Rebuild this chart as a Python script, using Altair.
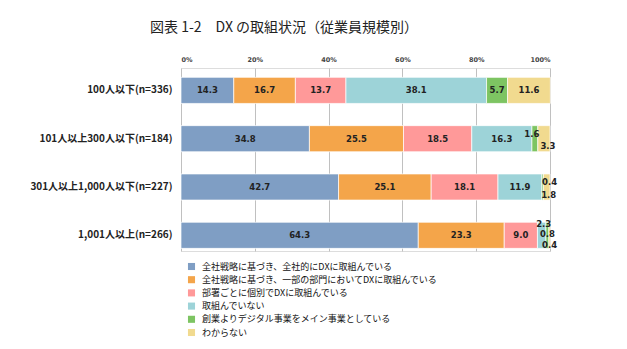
import altair as alt
import pandas as pd

groups = ["100人以下(n=336)", "101人以上300人以下(n=184)",
          "301人以上1,000人以下(n=227)", "1,001人以上(n=266)"]
categories = [
    "全社戦略に基づき、全社的にDXに取組んでいる",
    "全社戦略に基づき、一部の部門においてDXに取組んでいる",
    "部署ごとに個別でDXに取組んでいる",
    "取組んでいない",
    "創業よりデジタル事業をメイン事業としている",
    "わからない",
]
s1 = [14.3, 34.8, 42.7, 64.3]
s2 = [16.7, 25.5, 25.1, 23.3]
s3 = [13.7, 18.5, 18.1, 9.0]
s4 = [38.1, 16.3, 11.9, 2.3]
s5 = [5.7, 1.6, 0.4, 0.8]
s6 = [11.6, 3.3, 1.8, 0.4]
series = [s1, s2, s3, s4, s5, s6]
colors = ["#7F9EC4", "#F4A54A", "#FF9999", "#9DD3D8", "#7DC462", "#F1DA8F"]

# label nudges (pixels) for tiny segments: (group index, category index) -> (dx, dy)
nudges = {
    (1, 4): (-3, -5), (1, 5): (4, 7),
    (2, 4): (7, -5), (2, 5): (2, 8),
    (3, 3): (2, -11), (3, 4): (0, -1), (3, 5): (0, 10),
}

rows = []
for ci, (cat, vals) in enumerate(zip(categories, series)):
    for gi, g in enumerate(groups):
        rows.append({"group": g, "cat": cat, "ci": ci, "gi": gi, "v": vals[gi],
                     "key": f"{gi}-{ci}"})
df = pd.DataFrame(rows)

FONT = "Noto Sans CJK JP"

base = alt.Chart(df).transform_stack(
    stack="v", groupby=["group"], sort=[alt.SortField("ci", "ascending")], as_=["v0", "v1"]
).transform_calculate(mid="(datum.v0 + datum.v1) / 2")

yenc = alt.Y("group:N", sort=groups, title=None,
             scale=alt.Scale(paddingInner=0.46, paddingOuter=0.124, align=0.78),
             axis=alt.Axis(domain=False, ticks=False, labelFont=FONT, labelFontWeight="bold",
                           labelFontSize=10, labelColor="#222222", labelPadding=9))

bars = base.mark_bar(stroke="white", strokeWidth=0.7).encode(
    x=alt.X("v0:Q", scale=alt.Scale(domain=[0, 100], nice=False),
            axis=alt.Axis(orient="top", values=[0, 20, 40, 60, 80, 100],
                          labelExpr="datum.value + '%'", title=None, domain=False,
                          ticks=False, grid=True, gridColor="#C0C0C0", gridWidth=1,
                          labelFont="DejaVu Sans", labelFontWeight="bold",
                          labelFontSize=6.5, labelColor="#444444", labelPadding=6)),
    x2="v1:Q",
    y=yenc,
    color=alt.Color("cat:N", sort=categories,
                    scale=alt.Scale(domain=categories, range=colors),
                    legend=alt.Legend(title=None, orient="none", legendX=6, legendY=194,
                                      symbolType="square", symbolSize=50,
                                      symbolStrokeWidth=0, labelFont=FONT,
                                      labelFontSize=9, labelColor="#111111",
                                      labelOffset=6, rowPadding=3.2, labelLimit=400)),
)

keys = [f"{g}-{c}" for (g, c) in nudges]
labels_main = base.transform_filter(
    "indexof(" + str(keys).replace("'", '"') + ", datum.key) < 0"
).mark_text(font="DejaVu Sans", fontWeight="bold", fontSize=8.5, color="#222222").encode(
    x="mid:Q", y=alt.Y("group:N", sort=groups), text=alt.Text("v:Q", format=".1f"))

layers = [bars, labels_main]
for (g, c), (dx, dy) in nudges.items():
    layers.append(
        base.transform_filter(f"datum.key == '{g}-{c}'").mark_text(
            font="DejaVu Sans", fontWeight="bold", fontSize=8.5, color="#222222", dx=dx, dy=dy
        ).encode(x="mid:Q", y=alt.Y("group:N", sort=groups), text=alt.Text("v:Q", format=".1f"))
    )

chart = alt.layer(*layers).properties(
    width=369, height=183,
    title=alt.TitleParams("図表 1-2　DX の取組状況（従業員規模別）", font=FONT, fontSize=14,
                          fontWeight="normal", color="#222222", anchor="start",
                          frame="group", dx=-31, offset=21),
    autosize=alt.AutoSizeParams(type="none"),
    padding={"left": 181, "top": 68, "right": 77, "bottom": 98},
).configure_view(stroke=None).configure(background="white")

chart.save("out.html", embed_options={"renderer": "svg", "actions": False})
